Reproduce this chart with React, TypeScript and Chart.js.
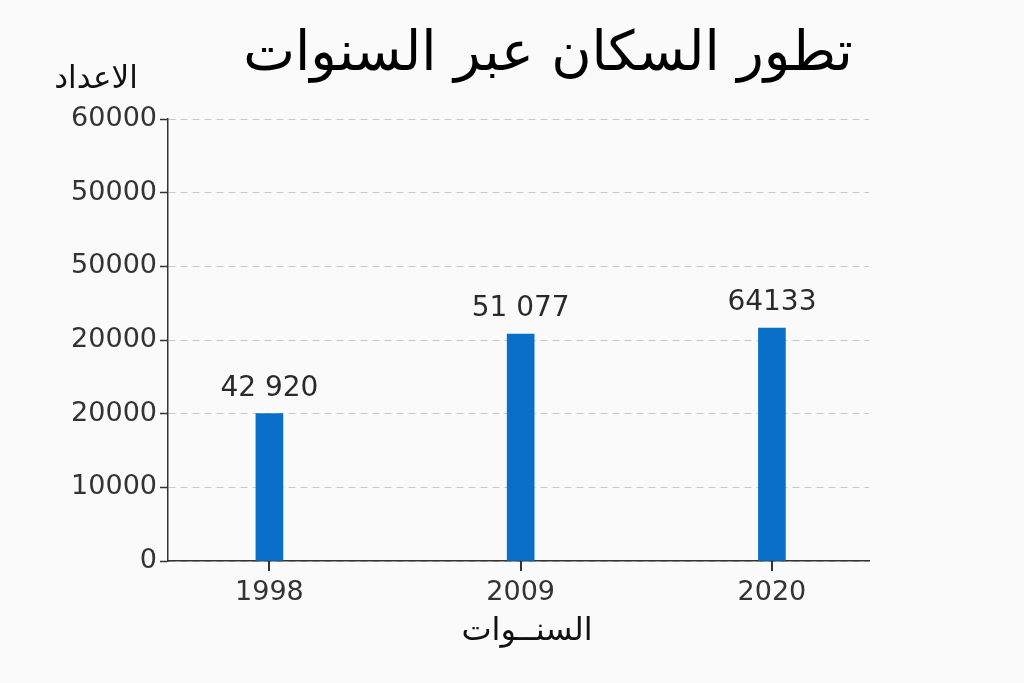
import React, { useEffect, useRef } from "react";
import { Chart, registerables } from "chart.js";

Chart.register(...registerables);

const years = [1998, 2009, 2020];
const barValues = [20000, 30810, 31630];
const valueLabels = ["42 920", "51 077", "64133"];
const yTickValues = [0, 10000, 20000, 30000, 40000, 50000, 60000];
const yTickLabels = ["0", "10000", "20000", "20000", "50000", "50000", "60000"];
const titleText = "تطور السكان عبر السنوات";
const yAxisTitle = "الاعداد";
const xAxisTitle = "السنــوات";

const FONT = "'DejaVu Sans', sans-serif";

const textPlugin = {
  id: "texts",
  afterDraw(chart: any) {
    const ctx = chart.ctx;
    const xs = chart.scales.x;
    const ys = chart.scales.y;
    const axisY = chart.chartArea.bottom;
    ctx.save();
    ctx.setLineDash([]);
    // x tick marks
    ctx.fillStyle = "#333";
    years.forEach((yr) => {
      const px = xs.getPixelForValue(yr);
      ctx.fillRect(Math.round(px) - 1, axisY, 2, 10);
    });
    ctx.textAlign = "center";
    ctx.textBaseline = "middle";
    // title
    ctx.fillStyle = "#000";
    ctx.font = `55px ${FONT}`;
    ctx.fillText(titleText, 548, 56);
    // y axis title
    ctx.font = `31px ${FONT}`;
    ctx.fillStyle = "#111";
    ctx.fillText(yAxisTitle, 96, 80);
    // x axis title
    ctx.font = `32px ${FONT}`;
    ctx.fillText(xAxisTitle, 527, 632);
    // value labels
    ctx.font = `28px ${FONT}`;
    ctx.fillStyle = "#2a2a2a";
    years.forEach((yr, i) => {
      const px = xs.getPixelForValue(yr);
      const py = ys.getPixelForValue(barValues[i]);
      ctx.fillText(valueLabels[i], px, py - 25);
    });
    ctx.restore();
  },
};

export default function App() {
  const ref = useRef<HTMLCanvasElement>(null);
  useEffect(() => {
    if (!ref.current) return;
    const chart = new Chart(ref.current, {
      type: "bar",
      data: {
        datasets: [
          {
            data: years.map((y, i) => ({ x: y, y: barValues[i] })),
            backgroundColor: "#0a6fc9",
            barThickness: 27,
          },
        ],
      },
      options: {
        animation: false,
        responsive: false,
        maintainAspectRatio: false,
        layout: { padding: { left: 0, right: 155, top: 119, bottom: 0 } },
        plugins: {
          legend: { display: false },
          title: { display: false },
          tooltip: { enabled: false },
        },
        scales: {
          x: {
            type: "linear",
            offset: false,
            min: 1993.56,
            max: 2024.25,
            afterBuildTicks: (s: any) => {
              s.ticks = years.map((v) => ({ value: v }));
            },
            afterFit: (s: any) => {
              s.height = 122;
            },
            ticks: {
              callback: (v: any) => String(v),
              font: { family: FONT, size: 27 },
              color: "#333",
              padding: 8,
              maxRotation: 0,
              autoSkip: false,
            },
            grid: {
              display: false,
            },
            border: { display: true, color: "#333", width: 1.5 },
          },
          y: {
            type: "linear",
            min: 0,
            max: 60000,
            afterBuildTicks: (s: any) => {
              s.ticks = yTickValues.map((v) => ({ value: v }));
            },
            afterFit: (s: any) => {
              s.width = 168;
            },
            ticks: {
              callback: (_v: any, i: number) => yTickLabels[i],
              font: { family: FONT, size: 27 },
              color: "#333",
              padding: 3,
              autoSkip: false,
            },
            grid: {
              color: "#c8c8c8",
              lineWidth: 1,
              drawTicks: true,
              tickLength: 8,
              tickColor: "#333",
              tickBorderDash: [],
              tickWidth: 1.5,
            },
            border: { display: true, color: "#333", width: 1.5, dash: [7, 5] },
          },
        },
      },
      plugins: [textPlugin],
    } as any);
    return () => chart.destroy();
  }, []);
  return (
    <div
      style={{
        position: "absolute",
        left: 0,
        top: 0,
        width: 1024,
        height: 683,
        background: "#fafafa",
      }}
    >
      <canvas ref={ref} width={1024} height={683} style={{ display: "block" }} />
    </div>
  );
}
